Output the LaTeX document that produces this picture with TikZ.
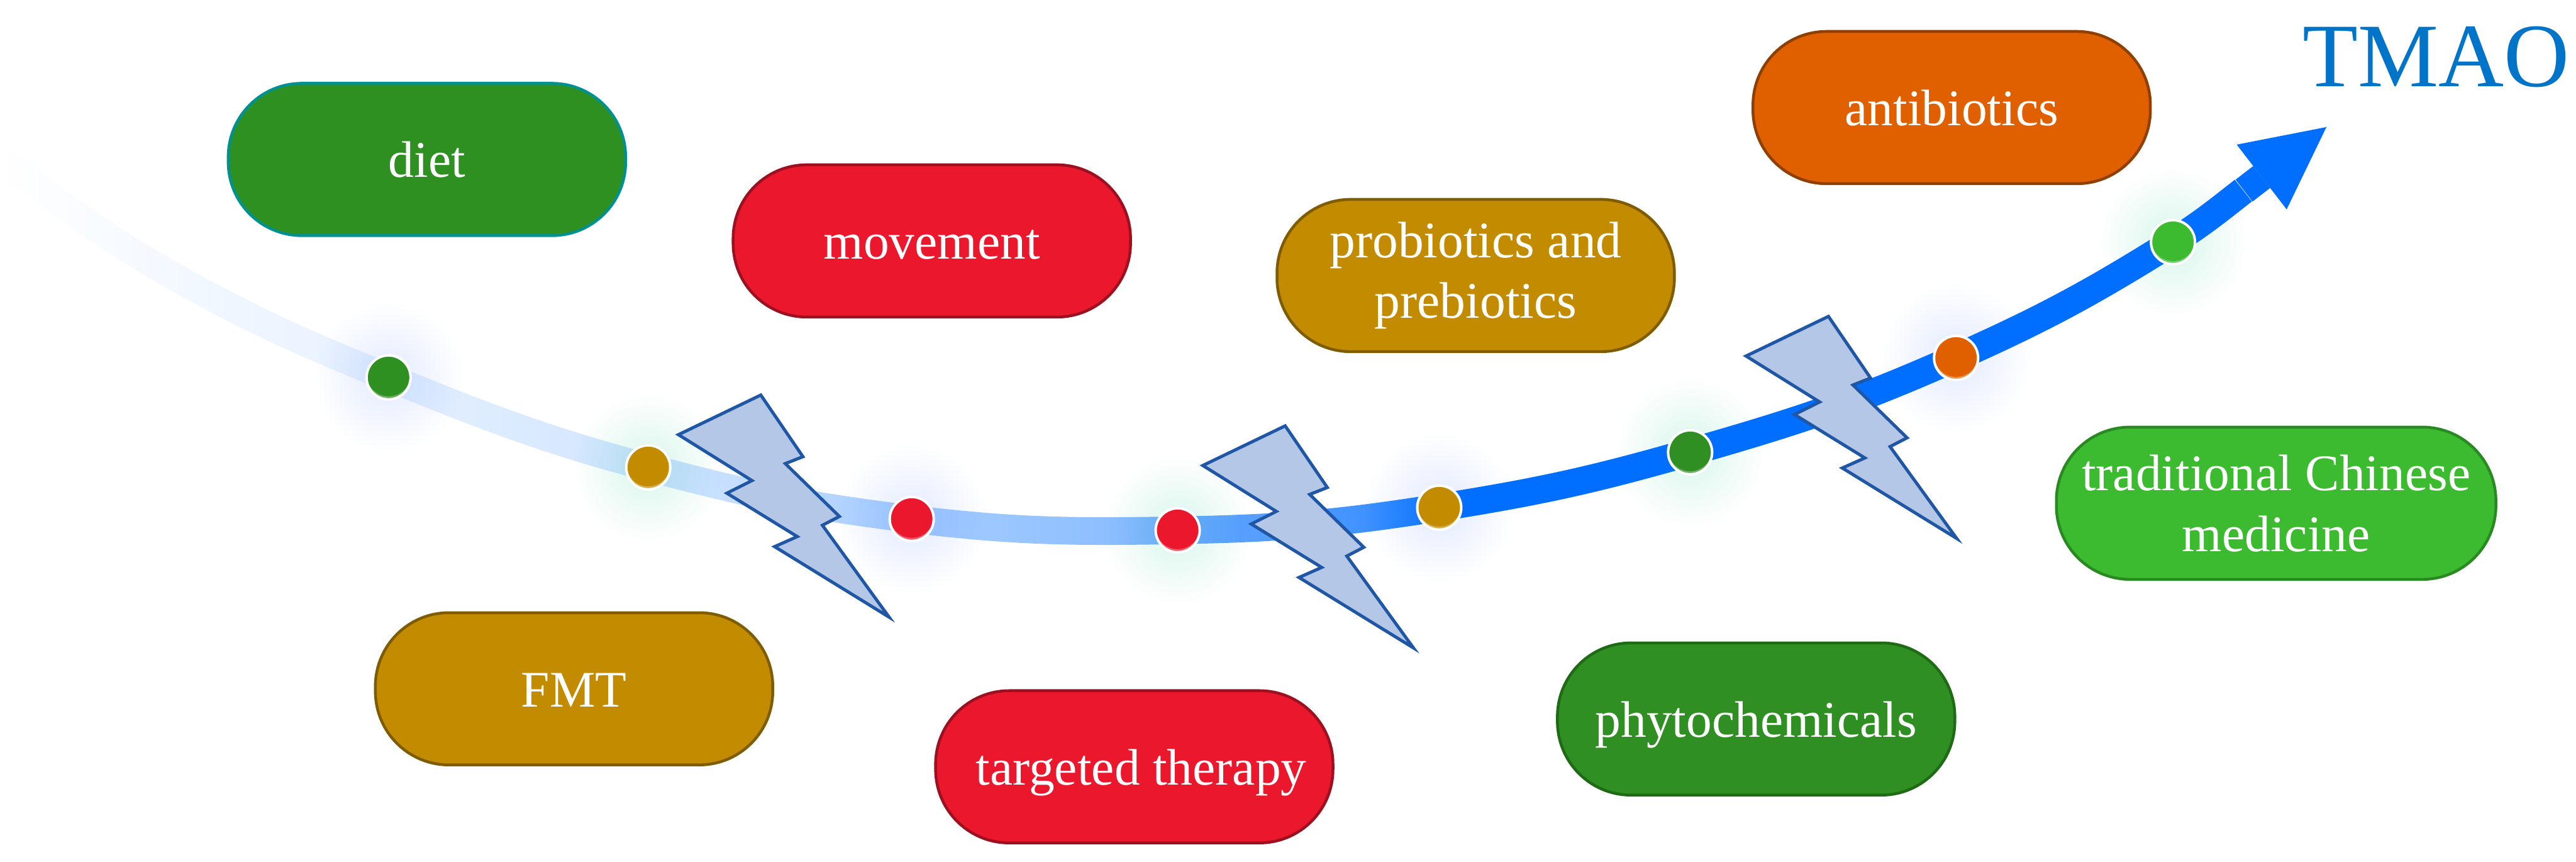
\documentclass[tikz,border=0pt]{standalone}
\usepackage{fontspec}
\setmainfont{Liberation Serif}
\usetikzlibrary{arrows.meta,fadings}
\definecolor{curveblue}{HTML}{006EFF}
\definecolor{tmaoblue}{HTML}{0074C8}
\definecolor{dietgreen}{HTML}{2F9022}
\definecolor{dietedge}{HTML}{00908F}
\definecolor{darkgreen}{HTML}{2F8F22}
\definecolor{darkedge}{HTML}{1F6B15}
\definecolor{lightgreen}{HTML}{3CBB30}
\definecolor{lightedge}{HTML}{2A8A22}
\definecolor{redfill}{HTML}{EA172D}
\definecolor{rededge}{HTML}{9C1020}
\definecolor{goldfill}{HTML}{C28B00}
\definecolor{goldedge}{HTML}{7F5C00}
\definecolor{orangefill}{HTML}{E06000}
\definecolor{orangeedge}{HTML}{8F3F00}
\definecolor{boltfill}{HTML}{B4C7E7}
\definecolor{boltedge}{HTML}{1F56A5}
\definecolor{glowblue}{HTML}{E2EAFF}
\definecolor{glowgreen}{HTML}{D8F5EC}
\pgfdeclarehorizontalshading{curveramp}{200bp}{color(0bp)=(black); color(16.7bp)=(white!10!black); color(29.7bp)=(white!20!black); color(39.2bp)=(white!35!black); color(47.6bp)=(white!45!black); color(52.7bp)=(white!65!black); color(58bp)=(white!75!black); color(62bp)=(white); color(100bp)=(white)}
\pgfdeclarefading{curvefade}{\pgfuseshading{curveramp}}
\begin{document}
\begin{tikzpicture}
        \tikzstyle{pill}=[rectangle,rounded corners=1.17cm,minimum width=6.32cm,minimum height=2.42cm,line width=0.045cm,text=white,align=center,font=\fontsize{23.2}{27.5}\selectfont]
        \tikzstyle{oneline}=[text height=0.57cm,text depth=0pt]
        \tikzstyle{dot}=[circle,inner sep=0pt,minimum size=0.7cm,draw=white,line width=0.04cm,fill=#1!70!white,path picture={\fill[#1] ([yshift=0.05cm]path picture bounding box.center) circle (0.35cm);}]
        \tikzstyle{bolt}=[draw=boltedge,fill=boltfill,line width=0.05cm,line join=miter]
        \tikzstyle{curve}=[draw=curveblue,line width=0.44cm]
        \useasboundingbox (0,0) rectangle (40.97,13.7);

        \coordinate (p0) at (0,11.17);
        \coordinate (q0) at (2.87,9.25);
        \coordinate (p1) at (6.18,7.70);
        \coordinate (p2) at (10.31,6.27);
        \coordinate (p3) at (14.50,5.45);
        \coordinate (p4) at (18.73,5.27);
        \coordinate (p5) at (22.89,5.63);
        \coordinate (p6) at (26.88,6.51);
        \coordinate (p7) at (31.11,8.01);
        \coordinate (p8) at (34.56,9.85);
        \coordinate (neck) at (35.69,10.67);
        \coordinate (tip) at (37.00,11.68);

        \foreach \p/\g in {p1/glowblue,p2/glowgreen,p3/glowblue,p4/glowgreen,p5/glowblue,p6/glowgreen,p7/glowblue,p8/glowgreen}
          \shade[inner color=\g,outer color=white] (\p) circle (1.2);

        \path[curve,path fading=curvefade,fit fading=false,fading transform={shift={(18.7,8.5)},xscale=10.6,yscale=2}] (p0) to[out=-36,in=151] (q0) to[out=-29,in=158] (p1) to[out=-22,in=165] (p2) to[out=-15,in=173] (p3) to[out=-7,in=181] (p4) to[out=1,in=189] (p5) to[out=9,in=196] (p6) to[out=16,in=204] (p7) to[out=24,in=212] (p8) to[out=32,in=218] (neck);
        \draw[curve,-{Triangle[length=1.3cm,width=1.3cm,line width=0pt]}] (neck) -- (tip);

        \foreach \bx/\by in {0/0,8.34/-0.49,16.98/1.25}
          \draw[bolt,shift={(\bx,\by)}] (12.10,7.42) -- (10.79,6.79) -- (11.96,6.06) -- (11.56,5.86) -- (12.68,5.17) -- (12.32,5.01) -- (14.14,3.89) -- (13.08,5.35) -- (13.35,5.49) -- (12.49,6.33) -- (12.77,6.44) -- cycle;

        \node [dot=dietgreen] (d1) at (p1) {};
        \node [dot=goldfill] (d2) at (p2) {};
        \node [dot=redfill] (d3) at (p3) {};
        \node [dot=redfill] (d4) at (p4) {};
        \node [dot=goldfill] (d5) at (p5) {};
        \node [dot=darkgreen] (d6) at (p6) {};
        \node [dot=orangefill] (d7) at (p7) {};
        \node [dot=lightgreen] (d8) at (p8) {};

        \node [pill,oneline,fill=dietgreen,draw=dietedge] (diet) at (6.79,11.165) {diet};
        \node [pill,oneline,fill=redfill,draw=rededge] (movement) at (14.82,9.87) {movement};
        \node [pill,fill=goldfill,draw=goldedge] (probiotics) at (23.47,9.32) {probiotics and\\prebiotics};
        \node [pill,oneline,fill=orangefill,draw=orangeedge] (antibiotics) at (31.04,11.99) {antibiotics};
        \node [pill,oneline,fill=goldfill,draw=goldedge] (fmt) at (9.13,2.75) {FMT};
        \node [pill,oneline,fill=redfill,draw=rededge] (targeted) at (18.04,1.51) {\hspace*{0.22cm}targeted therapy};
        \node [pill,oneline,fill=darkgreen,draw=darkedge] (phyto) at (27.93,2.27) {phytochemicals};
        \node [pill,fill=lightgreen,draw=lightedge,minimum width=6.99cm] (tcm) at (36.20,5.70) {traditional Chinese\\medicine};
        \node [anchor=base,text=tmaoblue,inner sep=0pt,font=\fontsize{41}{41}\selectfont] (tmao) at (38.74,12.32) {TMAO};
      \end{tikzpicture}
\end{document}
